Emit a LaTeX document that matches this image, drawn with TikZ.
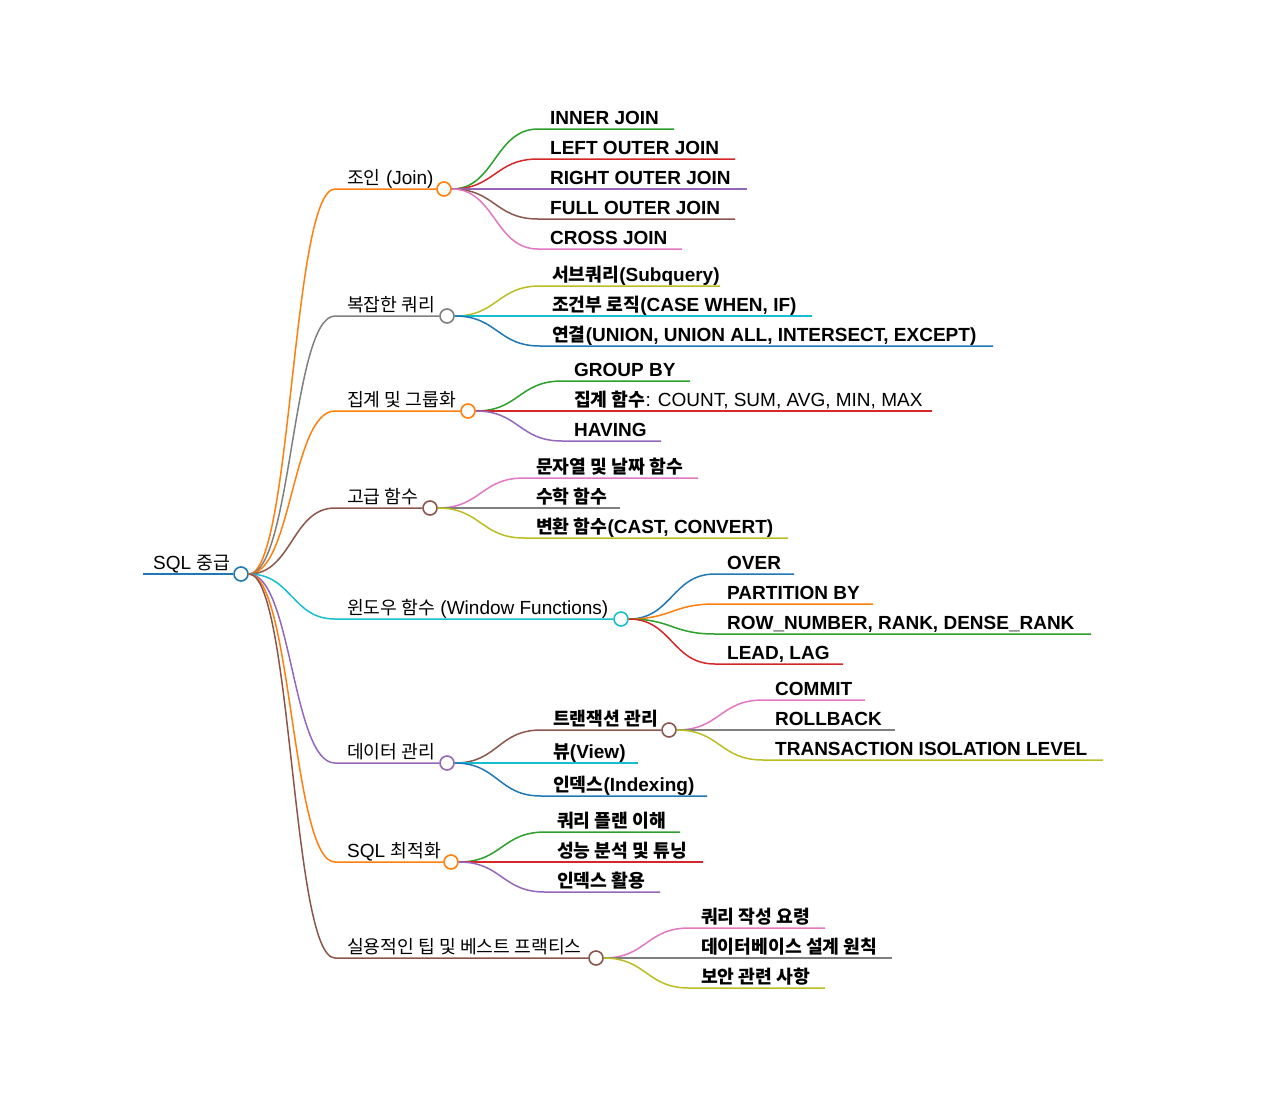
\documentclass[tikz,border=0pt]{standalone}
\usepackage{fontspec}
\setmainfont{Liberation Sans}
\newfontfamily\krf{Noto Sans CJK KR}[Scale=0.96]
\newcommand\K[1]{{\krf #1}}
\usetikzlibrary{calc}
\definecolor{mmblue}{HTML}{1F77B4}
\definecolor{mmorange}{HTML}{FF7F0E}
\definecolor{mmgreen}{HTML}{2CA02C}
\definecolor{mmred}{HTML}{D62728}
\definecolor{mmpurple}{HTML}{9467BD}
\definecolor{mmbrown}{HTML}{8C564B}
\definecolor{mmpink}{HTML}{E377C2}
\definecolor{mmgray}{HTML}{7F7F7F}
\definecolor{mmolive}{HTML}{BCBD22}
\definecolor{mmcyan}{HTML}{17BECF}
\tikzset{
  link/.style={line width=1.5pt},
  dot/.style={circle, fill=white, minimum size=14pt, inner sep=0pt, line width=1.6pt},
  lbl/.style={anchor=base west, inner sep=0pt, font=\fontsize{19}{22}\selectfont},
  leaflbl/.style={lbl, font=\fontsize{19}{22}\selectfont\bfseries},
}
% branch with circle: #1 parent, #2 name, #3 xstart, #4 y, #5 xcircle, #6 colour, #7 text, #8 label style
\newcommand\mmbranch[8]{%
  \coordinate (#2s) at (#3,#4);
  \path ($(#1.east)!0.5!(#2s)$) coordinate (#2m);
  \node[dot,draw=#6] (#2) at (#5,#4) {};
  \draw[link,#6] (#1.east) .. controls (#2m |- #1.east) and (#2m |- #2s) .. (#2s) -- (#2.west);
  \node[#8] (#2t) at ([xshift=12pt,yshift=5pt]#2s) {#7};
}
% leaf: #1 parent, #2 name, #3 xstart, #4 y, #5 xend, #6 colour, #7 text
\newcommand\mmleaf[7]{%
  \coordinate (#2s) at (#3,#4);
  \coordinate (#2e) at (#5,#4);
  \path ($(#1.east)!0.5!(#2s)$) coordinate (#2m);
  \draw[link,#6] (#1.east) .. controls (#2m |- #1.east) and (#2m |- #2s) .. (#2s) -- (#2e);
  \node[leaflbl] (#2) at ([xshift=12pt,yshift=5pt]#2s) {#7};
}
\begin{document}
\begin{tikzpicture}[x=1pt,y=-1pt]
\useasboundingbox (0,0) rectangle (1280,1093);
% root
\coordinate (r0) at (143,574);
\node[dot,draw=mmblue] (root) at (241,574) {};
\draw[link,mmblue] (r0) -- (root.west);
\node[lbl] (roott) at ([xshift=10pt,yshift=5pt]r0) {SQL \K{중급}};
% level 1
\mmbranch{root}{a1}{335}{189}{444}{mmorange}{\K{조인} (Join)}{lbl}
\mmbranch{root}{a2}{335}{316}{447}{mmgray}{\K{복잡한 쿼리}}{lbl}
\mmbranch{root}{a3}{335}{411}{468}{mmorange}{\K{집계 및 그룹화}}{lbl}
\mmbranch{root}{a4}{335}{508}{430}{mmbrown}{\K{고급 함수}}{lbl}
\mmbranch{root}{a5}{335}{619}{621}{mmcyan}{\K{윈도우 함수} (Window Functions)}{lbl}
\mmbranch{root}{a6}{335}{763}{447}{mmpurple}{\K{데이터 관리}}{lbl}
\mmbranch{root}{a7}{335}{862}{451}{mmorange}{SQL \K{최적화}}{lbl}
\mmbranch{root}{a8}{335}{958}{596}{mmbrown}{\K{실용적인 팁 및 베스트 프랙티스}}{lbl}
% joins
\mmleaf{a1}{j1}{538}{129}{674}{mmgreen}{INNER JOIN}
\mmleaf{a1}{j2}{538}{159}{735}{mmred}{LEFT OUTER JOIN}
\mmleaf{a1}{j3}{538}{189}{747}{mmpurple}{RIGHT OUTER JOIN}
\mmleaf{a1}{j4}{538}{219}{735}{mmbrown}{FULL OUTER JOIN}
\mmleaf{a1}{j5}{538}{249}{682}{mmpink}{CROSS JOIN}
% complex queries
\mmleaf{a2}{q1}{540}{286}{720}{mmolive}{\K{서브쿼리}(Subquery)}
\mmleaf{a2}{q2}{540}{316}{812}{mmcyan}{\K{조건부 로직}(CASE WHEN, IF)}
\mmleaf{a2}{q3}{540}{346}{993}{mmblue}{\K{연결}(UNION, UNION ALL, INTERSECT, EXCEPT)}
% aggregation
\mmleaf{a3}{g1}{562}{381}{690}{mmgreen}{GROUP BY}
\mmleaf{a3}{g2}{562}{411}{932}{mmred}{\K{집계 함수}\mdseries: COUNT, SUM, AVG, MIN, MAX}
\mmleaf{a3}{g3}{562}{441}{661}{mmpurple}{HAVING}
% advanced functions
\mmleaf{a4}{f1}{524}{478}{698}{mmpink}{\K{문자열 및 날짜 함수}}
\mmleaf{a4}{f2}{524}{508}{620}{mmgray}{\K{수학 함수}}
\mmleaf{a4}{f3}{524}{538}{788}{mmolive}{\K{변환 함수}(CAST, CONVERT)}
% window functions
\mmleaf{a5}{w1}{715}{574}{794}{mmblue}{OVER}
\mmleaf{a5}{w2}{715}{604}{873}{mmorange}{PARTITION BY}
\mmleaf{a5}{w3}{715}{634}{1091}{mmgreen}{ROW\_NUMBER, RANK, DENSE\_RANK}
\mmleaf{a5}{w4}{715}{664}{843}{mmred}{LEAD, LAG}
% data management
\mmbranch{a6}{b1}{541}{730}{669}{mmbrown}{\K{트랜잭션 관리}}{leaflbl}
\mmleaf{a6}{d2}{541}{763}{638}{mmcyan}{\K{뷰}(View)}
\mmleaf{a6}{d3}{541}{796}{707}{mmblue}{\K{인덱스}(Indexing)}
\mmleaf{b1}{t1}{763}{700}{865}{mmpink}{COMMIT}
\mmleaf{b1}{t2}{763}{730}{895}{mmgray}{ROLLBACK}
\mmleaf{b1}{t3}{763}{760}{1103}{mmolive}{TRANSACTION ISOLATION LEVEL}
% optimisation
\mmleaf{a7}{o1}{545}{832}{680}{mmgreen}{\K{쿼리 플랜 이해}}
\mmleaf{a7}{o2}{545}{862}{703}{mmred}{\K{성능 분석 및 튜닝}}
\mmleaf{a7}{o3}{545}{892}{660}{mmpurple}{\K{인덱스 활용}}
% tips
\mmleaf{a8}{p1}{689}{928}{825}{mmpink}{\K{쿼리 작성 요령}}
\mmleaf{a8}{p2}{689}{958}{892}{mmgray}{\K{데이터베이스 설계 원칙}}
\mmleaf{a8}{p3}{689}{988}{825}{mmolive}{\K{보안 관련 사항}}
\end{tikzpicture}
\end{document}
